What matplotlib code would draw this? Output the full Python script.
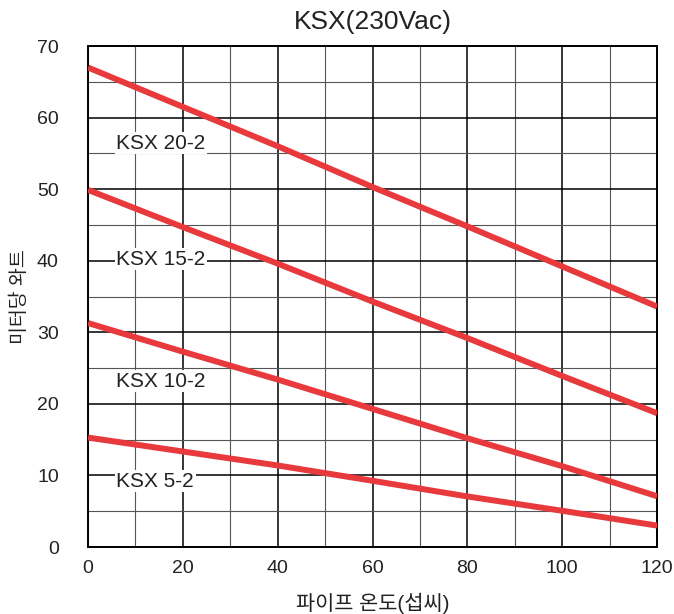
import matplotlib.pyplot as plt
from matplotlib.ticker import MultipleLocator

plt.rcParams["font.family"] = ["Liberation Sans", "Noto Sans CJK KR", "DejaVu Sans"]

# 데이터
temps = [0, 20, 40, 60, 80, 100, 120]
ksx_20_2 = [67.0, 61.5, 56.0, 50.3, 44.8, 39.2, 33.6]
ksx_15_2 = [49.9, 44.7, 39.6, 34.3, 29.2, 23.9, 18.7]
ksx_10_2 = [31.3, 27.3, 23.4, 19.3, 15.2, 11.3, 7.1]
ksx_5_2 = [15.3, 13.35, 11.4, 9.26, 7.07, 5.07, 3.0]

series = [ksx_20_2, ksx_15_2, ksx_10_2, ksx_5_2]
labels = ["KSX 20-2", "KSX 15-2", "KSX 10-2", "KSX 5-2"]
label_y = [56.4, 40.2, 23.2, 9.2]

RED = "#e8393d"

fig = plt.figure(figsize=(6.74, 6.14), dpi=100)
ax = fig.add_axes([0.1306, 0.109, 0.8444, 0.816])

ax.set_xlim(0, 120)
ax.set_ylim(0, 70)
ax.xaxis.set_major_locator(MultipleLocator(20))
ax.xaxis.set_minor_locator(MultipleLocator(10))
ax.yaxis.set_major_locator(MultipleLocator(10))
ax.yaxis.set_minor_locator(MultipleLocator(5))

ax.grid(which="major", color="black", linewidth=1.1, zorder=1)
ax.grid(which="minor", color="#555555", linewidth=0.8, zorder=1)
ax.set_axisbelow(True)
ax.tick_params(which="both", length=0, labelsize=14, colors="#222222")
ax.tick_params(axis="y", pad=21)
ax.tick_params(axis="x", pad=9)
for sp in ax.spines.values():
    sp.set_linewidth(1.4)

for vals in series:
    ax.plot(temps, vals, color=RED, linewidth=4.3, solid_capstyle="butt", zorder=3)

for lab, y in zip(labels, label_y):
    ax.text(6.0, y, lab, fontsize=15, va="center", ha="left", zorder=4, color="#222222",
            bbox=dict(facecolor="white", edgecolor="none", pad=1.0))

ax.set_title("KSX(230Vac)", fontsize=19, pad=12, color="#222222")
ax.set_xlabel("파이프 온도(섭씨)", fontsize=15, labelpad=12, color="#222222")
ax.set_ylabel("미터당 와트", fontsize=14, labelpad=6, color="#222222")

fig.savefig("out.png", dpi=100)
